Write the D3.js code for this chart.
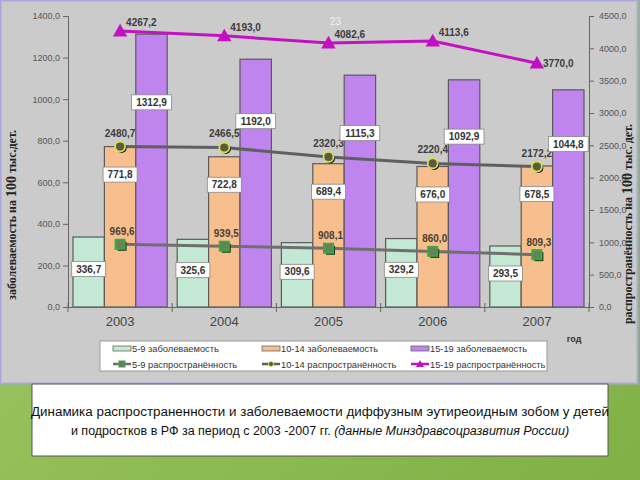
<!DOCTYPE html>
<html><head><meta charset="utf-8">
<script src="https://cdn.jsdelivr.net/npm/d3@7"></script>
<style>body{margin:0;padding:0;overflow:hidden}svg{display:block}</style>
</head><body>
<script>
const years = ["2003","2004","2005","2006","2007"];
const inc59 = [336.7, 325.6, 309.6, 329.2, 293.5];
const inc1014 = [771.8, 722.8, 689.4, 676.0, 678.5];
const inc1519 = [1312.9, 1192.0, 1115.3, 1092.9, 1044.8];
const prev59 = [969.6, 939.5, 908.1, 860.0, 809.3];
const prev1014 = [2480.7, 2466.5, 2320.3, 2220.4, 2172.2];
const prev1519 = [4267.2, 4193.0, 4082.6, 4113.6, 3770.0];
const leftTicks = [0,200,400,600,800,1000,1200,1400];
const rightTicks = [0,500,1000,1500,2000,2500,3000,3500,4000,4500];
const barNames = ["5-9 заболеваемость","10-14 заболеваемость","15-19 заболеваемость"];
const lineNames = ["5-9 распространённость","10-14 распространённость","15-19 распространённость"];

const W=640,H=480;
const svg=d3.select("body").append("svg").attr("width",W).attr("height",H);
const defs=svg.append("defs");
const g1=defs.append("linearGradient").attr("id","bg").attr("x1","0").attr("x2","1").attr("y1","0").attr("y2","1");
g1.append("stop").attr("offset","0").attr("stop-color","#a6cc6a");
g1.append("stop").attr("offset","1").attr("stop-color","#80b046");
svg.append("rect").attr("width",W).attr("height",H).attr("fill","url(#bg)");
svg.append("rect").attr("x",0.5).attr("y",0.5).attr("width",637).attr("height",383)
  .attr("fill","#cbcbcb").attr("stroke","#aaa8dc").attr("stroke-width",2);

const fmt = v => d3.format(".1f")(v).replace(".",",");
const X0=68,X1=589,Y0=307,Y1=16;
const x0=d3.scaleBand().domain(years).range([X0,X1]);
const bw=x0.bandwidth();
const x1=d3.scaleBand().domain([0,1,2]).range([5,bw-5]);
const yL=d3.scaleLinear().domain([0,1400]).range([Y0,Y1]);
const yR=d3.scaleLinear().domain([0,4500]).range([Y0,Y1]);

const barColors=["#c3e8d3","#f8bf8e","#c084ef"];
const barSeries=[inc59,inc1014,inc1519];
const plot=svg.append("g");
barSeries.forEach((s,k)=>{
  plot.selectAll(".b"+k).data(s).enter().append("rect")
    .attr("x",(d,i)=>x0(years[i])+x1(k)).attr("width",x1.bandwidth())
    .attr("y",d=>yL(d)).attr("height",d=>Y0-yL(d))
    .attr("fill",barColors[k]).attr("stroke","#5a5a5a").attr("stroke-width",1.2);
});

const axL=svg.append("g").attr("transform",`translate(${X0},0)`)
  .call(d3.axisLeft(yL).tickValues(leftTicks).tickFormat(fmt).tickSize(5).tickPadding(3));
const axR=svg.append("g").attr("transform",`translate(${X1},0)`)
  .call(d3.axisRight(yR).tickValues(rightTicks).tickFormat(fmt).tickSize(5).tickPadding(5));
[axL,axR].forEach(a=>{
  a.selectAll("path,line").attr("stroke","#666");
  a.selectAll("text").attr("font-family","Liberation Sans, Arial").attr("font-size",9).attr("fill","#555");
});
const axB=svg.append("g").attr("transform",`translate(0,${Y0})`)
  .call(d3.axisBottom(x0).tickSize(0).tickPadding(10));
axB.select(".domain").attr("stroke","#666");
axB.selectAll("text").attr("font-family","Liberation Sans, Arial").attr("font-size",13).attr("fill","#444");
axB.selectAll(".tk").data(d3.range(years.length+1)).enter().append("line")
  .attr("x1",i=>X0+i*bw).attr("x2",i=>X0+i*bw).attr("y1",-4).attr("y2",5).attr("stroke","#666");

const cx=i=>x0(years[i])+bw/2;
function drawLine(data,color,w){
  svg.append("path").datum(data)
    .attr("d",d3.line().x((d,i)=>cx(i)).y(d=>yR(d)))
    .attr("fill","none").attr("stroke",color).attr("stroke-width",w);
}
drawLine(prev59,"#6f6f6f",3);
drawLine(prev1014,"#5f5f5f",3);
drawLine(prev1519,"#c313c0",3);

function square(g,x,y,s){
  g.append("rect").attr("x",x-s/2+2).attr("y",y-s/2+2).attr("width",s).attr("height",s).attr("fill","#1a3a1a");
  g.append("rect").attr("x",x-s/2).attr("y",y-s/2).attr("width",s).attr("height",s)
   .attr("fill","#6c7d66").attr("stroke","#3da83a").attr("stroke-width",2);
}
function circle(g,x,y,r){
  g.append("circle").attr("cx",x+1.5).attr("cy",y+1.5).attr("r",r).attr("fill","#111");
  g.append("circle").attr("cx",x).attr("cy",y).attr("r",r).attr("fill","#5e5a3e").attr("stroke","#d4e050").attr("stroke-width",1.8);
}
function tri(g,x,y,s){
  g.append("path").attr("d",`M${x},${y-s*0.6}L${x+s*0.6},${y+s*0.45}L${x-s*0.6},${y+s*0.45}Z`).attr("fill","#c40fc0");
}
const mk=svg.append("g");
prev59.forEach((d,i)=>square(mk,cx(i),yR(d),9));
prev1014.forEach((d,i)=>circle(mk,cx(i),yR(d),5));
prev1519.forEach((d,i)=>tri(mk,cx(i),yR(d),12));

const lbl=svg.append("g").attr("font-family","Liberation Sans, Arial").attr("font-size",10).attr("font-weight","bold").attr("fill","#3c3c3c");
prev59.forEach((d,i)=>lbl.append("text").attr("x",cx(i)+2).attr("y",yR(d)-9).attr("text-anchor","middle").attr("fill","#4a4030").text(fmt(d)));
prev1014.forEach((d,i)=>lbl.append("text").attr("x",cx(i)).attr("y",yR(d)-10).attr("text-anchor","middle").text(fmt(d)));
prev1519.forEach((d,i)=>lbl.append("text").attr("x",cx(i)+6).attr("y",i===prev1519.length-1?yR(d)+4:yR(d)-5).attr("text-anchor","start").text(fmt(d)));

function boxLabel(x,y,t){
  const g=svg.append("g");
  const tw=t.length*5.8+5;
  g.append("rect").attr("x",x-tw/2).attr("y",y-7.5).attr("width",tw).attr("height",15).attr("fill","#fff").attr("stroke","#888").attr("stroke-width",0.8);
  g.append("text").attr("x",x).attr("y",y+3.6).attr("text-anchor","middle")
   .attr("font-family","Liberation Sans, Arial").attr("font-size",10).attr("font-weight","bold").attr("fill","#333").text(t);
}
inc59.forEach((d,i)=>boxLabel(x0(years[i])+x1(0)+x1.bandwidth()/2,(yL(d)+Y0)/2-3,fmt(d)));
inc1014.forEach((d,i)=>boxLabel(x0(years[i])+x1(1)+x1.bandwidth()/2,yL(d)+28,fmt(d)));
inc1519.forEach((d,i)=>boxLabel(x0(years[i])+x1(2)+x1.bandwidth()/2,yL(d)+(Y0-yL(d))*0.25,fmt(d)));

svg.append("text").attr("x",330).attr("y",25).attr("font-family","Liberation Sans, Arial").attr("font-size",10).attr("fill","#fff").attr("opacity",0.8).text("23");

const tL=svg.append("text").attr("transform","translate(16,215) rotate(-90)").attr("text-anchor","middle")
  .attr("font-family","Liberation Serif, Times New Roman").attr("font-size",12).attr("font-weight","bold").attr("fill","#222");
tL.append("tspan").text("заболеваемость на ");
tL.append("tspan").attr("font-size",14).text("100");
tL.append("tspan").text(" тыс.дет.");
const tR=svg.append("text").attr("transform","translate(632,224) rotate(-90)").attr("text-anchor","middle")
  .attr("font-family","Liberation Serif, Times New Roman").attr("font-size",12).attr("font-weight","bold").attr("fill","#222");
tR.append("tspan").text("распространённость на ");
tR.append("tspan").attr("font-size",14).text("100");
tR.append("tspan").text(" тыс. дет.");
svg.append("text").attr("x",574).attr("y",342).attr("text-anchor","middle").attr("font-family","Liberation Sans, Arial").attr("font-size",9).attr("font-weight","bold").attr("fill","#333").text("год");

const lg=svg.append("g").attr("font-family","Liberation Sans, Arial").attr("font-size",9.3).attr("fill","#333");
lg.append("rect").attr("x",100).attr("y",341).attr("width",447).attr("height",30).attr("fill","#fff").attr("stroke","#999");
const lx=[113,262,411];
barNames.forEach((n,k)=>{
  lg.append("rect").attr("x",lx[k]).attr("y",346).attr("width",18).attr("height",5).attr("fill",barColors[k]).attr("stroke","#666").attr("stroke-width",0.8);
  lg.append("text").attr("x",lx[k]+19).attr("y",352).text(n);
});
const lcols=["#6f6f6f","#5f5f5f","#c313c0"];
lineNames.forEach((n,k)=>{
  lg.append("line").attr("x1",lx[k]).attr("x2",lx[k]+18).attr("y1",364).attr("y2",364).attr("stroke",lcols[k]).attr("stroke-width",2.5);
  lg.append("text").attr("x",lx[k]+19).attr("y",367.5).text(n);
});
lg.append("rect").attr("x",lx[0]+6).attr("y",361).attr("width",6).attr("height",6).attr("fill","#6c7d66").attr("stroke","#3da83a");
lg.append("circle").attr("cx",lx[1]+9).attr("cy",364).attr("r",2.5).attr("fill","#5e5a3e").attr("stroke","#d4e050");
lg.append("path").attr("d",`M${lx[2]+9},360L${lx[2]+13},367L${lx[2]+5},367Z`).attr("fill","#c40fc0");

svg.append("rect").attr("x",32).attr("y",384).attr("width",576).attr("height",72).attr("fill","#fff").attr("stroke","#555").attr("stroke-width",1);
const cap=svg.append("g").attr("font-family","Liberation Sans, Arial").attr("font-size",12.5).attr("fill","#111").attr("text-anchor","middle");
cap.append("text").attr("x",320).attr("y",416).attr("textLength",578).attr("lengthAdjust","spacingAndGlyphs")
  .text("Динамика распространенности  и заболеваемости диффузным эутиреоидным зобом у детей");
const t2=cap.append("text").attr("x",320).attr("y",435);
t2.append("tspan").text("и подростков в РФ за период с 2003 -2007 гг. ");
t2.append("tspan").attr("font-style","italic").text("(данные Минздравсоцразвития России)");
</script>
</body></html>
